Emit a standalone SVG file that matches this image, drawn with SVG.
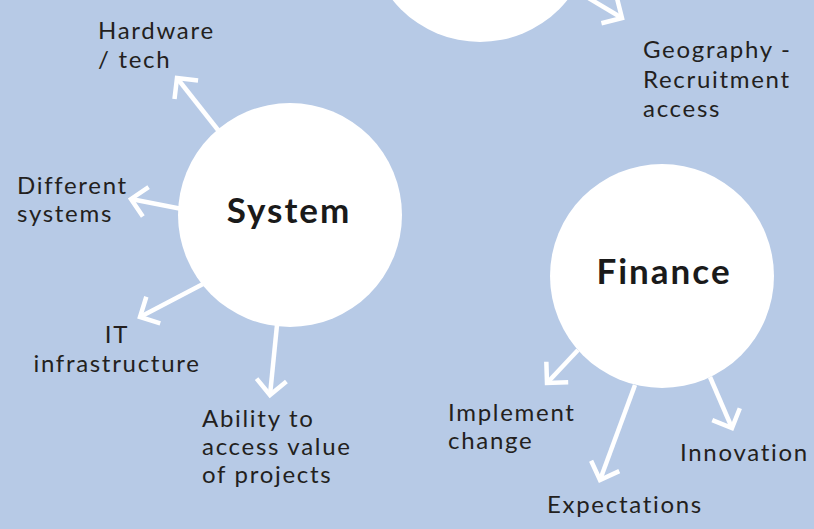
<svg xmlns="http://www.w3.org/2000/svg" width="814" height="529" viewBox="0 0 814 529">
<defs>
<style>
.bg{fill:#b7cae6}
.node{fill:#ffffff}
.lbl{font-family:Lato,"Open Sans","Liberation Sans",sans-serif;font-size:24px;fill:#231f20;letter-spacing:1.7px}
.title{font-family:Lato,"Open Sans","Liberation Sans",sans-serif;font-size:35px;font-weight:700;fill:#1a1a1a;text-anchor:middle;letter-spacing:2px}
.conn{stroke:#ffffff;stroke-width:4.5;fill:none;marker-end:url(#ah)}
</style>
<marker id="ah" markerUnits="userSpaceOnUse" viewBox="-20 -20 40 40" markerWidth="40" markerHeight="40" refX="0" refY="0" orient="auto" overflow="visible">
<path d="M-15,-15 L0,0 L-15,15" fill="none" stroke="#ffffff" stroke-width="4.5"/>
</marker>
</defs>
<rect class="bg" x="0" y="0" width="814" height="529"/>
<g id="connectors">
<line class="conn" x1="570" y1="-13" x2="622" y2="18"/>
<line class="conn" x1="218" y1="130" x2="177" y2="78"/>
<line class="conn" x1="182" y1="209" x2="131" y2="199"/>
<line class="conn" x1="203" y1="284" x2="140" y2="317"/>
<line class="conn" x1="277" y1="325" x2="270" y2="395"/>
<line class="conn" x1="578" y1="350" x2="547" y2="383"/>
<line class="conn" x1="635" y1="385" x2="600" y2="480"/>
<line class="conn" x1="710" y1="377" x2="732" y2="428"/>
</g>
<g id="node-top"><circle class="node" cx="480" cy="-70" r="112"/></g>
<g id="node-system"><circle class="node" cx="290" cy="215" r="112"/><text class="title" x="289" y="223">System</text></g>
<g id="node-finance"><circle class="node" cx="662" cy="276" r="112"/><text class="title" x="664" y="284">Finance</text></g>
<g id="label-hardware"><text class="lbl" x="98" y="39">Hardware</text><text class="lbl" x="98" y="68">/ tech</text></g>
<g id="label-different"><text class="lbl" x="17" y="194">Different</text><text class="lbl" x="17" y="222">systems</text></g>
<g id="label-it"><text class="lbl" x="117" y="343" text-anchor="middle">IT</text><text class="lbl" x="117" y="372" text-anchor="middle">infrastructure</text></g>
<g id="label-ability"><text class="lbl" x="202" y="427">Ability to</text><text class="lbl" x="202" y="455">access value</text><text class="lbl" x="202" y="483">of projects</text></g>
<g id="label-geography"><text class="lbl" x="643" y="58">Geography -</text><text class="lbl" x="643" y="88">Recruitment</text><text class="lbl" x="643" y="117">access</text></g>
<g id="label-implement"><text class="lbl" x="448" y="421">Implement</text><text class="lbl" x="448" y="449">change</text></g>
<g id="label-innovation"><text class="lbl" x="680" y="461">Innovation</text></g>
<g id="label-expectations"><text class="lbl" x="547" y="513">Expectations</text></g>
</svg>
